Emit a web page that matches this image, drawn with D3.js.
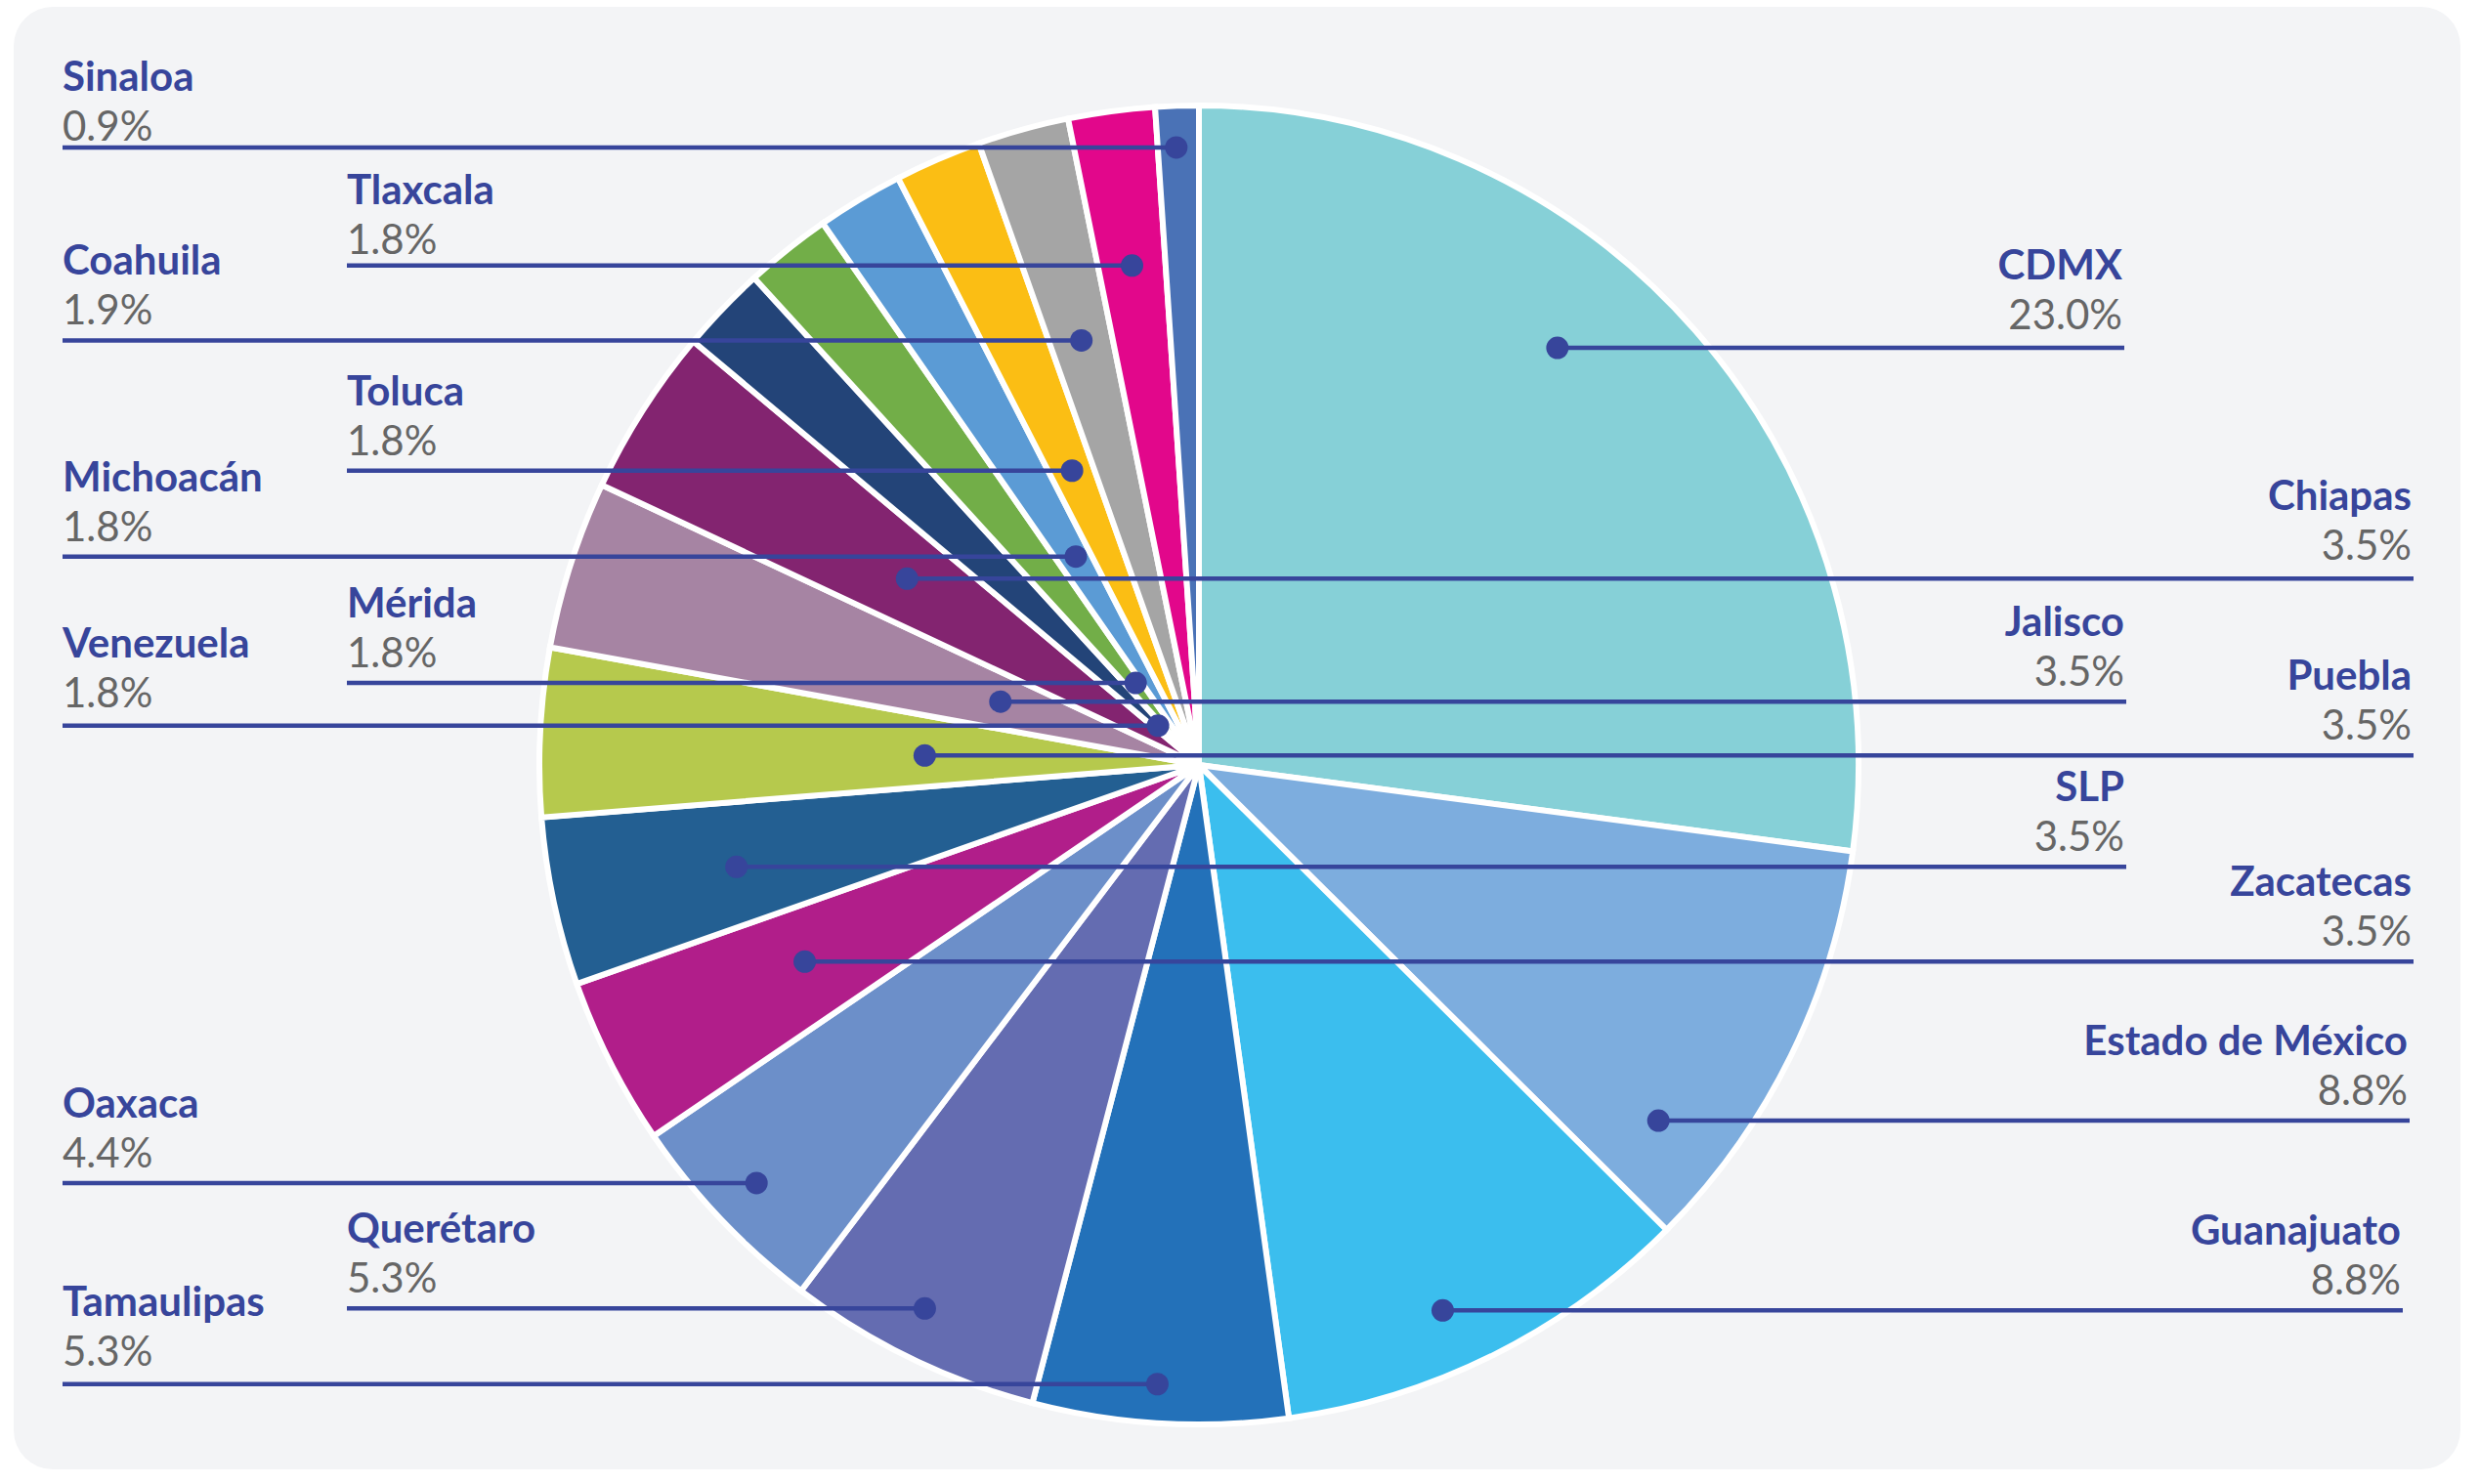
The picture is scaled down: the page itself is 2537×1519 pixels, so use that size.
<!DOCTYPE html>
<html>
<head>
<meta charset="utf-8">
<script src="https://cdn.jsdelivr.net/npm/d3@7"></script>
<style>
  html, body { margin: 0; padding: 0; background: #ffffff; }
  svg { display: block; }
</style>
</head>
<body>
<svg id="chart" width="2537" height="1519"></svg>
<script>
// ---- data ----
const categories = ["CDMX", "Estado de México", "Guanajuato", "Tamaulipas", "Querétaro", "Oaxaca",
  "Zacatecas", "SLP", "Puebla", "Jalisco", "Chiapas", "Venezuela", "Mérida", "Michoacán",
  "Toluca", "Coahuila", "Tlaxcala", "Sinaloa"];
const values = [23.0, 8.8, 8.8, 5.3, 5.3, 4.4, 3.5, 3.5, 3.5, 3.5, 3.5, 1.8, 1.8, 1.8, 1.8, 1.9, 1.8, 0.9];
const colors = ["#86d0d7", "#7dadde", "#3bbeee", "#2371b9", "#646cb1", "#6c8fc9",
  "#b11e8a", "#235f92", "#b6c94d", "#a684a3", "#832470", "#234478", "#72ae48", "#5b9bd5",
  "#fbbe14", "#a5a5a5", "#e2078b", "#4a72b6"];

// ---- label layout (side, text column, anchor position inside slice, text shift) ----
const labelSide = ["R","R","R","L","L","L","R","R","R","R","R","L","L","L","L","L","L","L"];
const labelX    = [2174, 2466, 2459, 64, 355, 64, 2470, 2176, 2470, 2176, 2470, 64, 355, 64, 355, 64, 355, 64];
const anchorAng = [0.417, 0.81, 0.565, 0.52, 0.54, 0.51, 0.52, 0.47, 0.44, 0.5, 0.5, 0.5, 0.62, 0.55, 0.5, 0.5, 0.5, 0.45];
const anchorRad = [0.834, 0.881, 0.906, 0.941, 0.923, 0.923, 0.668, 0.718, 0.416, 0.316, 0.525, 0.086, 0.157, 0.367, 0.486, 0.668, 0.764, 0.937];
const labelShift = [-3, 0, 0, -3, 0, 0, 0, 0, 0, 0, -3, -3, 0, 0, 0, 0, 4, 9];

const W = 2537, H = 1519;
const cx = 1227, cy = 783, R = 675;
const navy = "#37459b";
const gray = "#666666";

const svg = d3.select("#chart");

// panel
svg.append("rect")
  .attr("x", 14).attr("y", 7)
  .attr("width", 2504).attr("height", 1497)
  .attr("rx", 40).attr("ry", 40)
  .attr("fill", "#f3f4f6");

const data = categories.map((c, i) => ({ name: c, value: values[i], color: colors[i], i }));

const pie = d3.pie().sort(null).value(d => d.value).startAngle(0).endAngle(2 * Math.PI);
const arcs = pie(data);
const arc = d3.arc().innerRadius(0).outerRadius(R);

const g = svg.append("g").attr("transform", `translate(${cx},${cy})`);

g.selectAll("path.slice")
  .data(arcs)
  .join("path")
  .attr("class", "slice")
  .attr("d", arc)
  .attr("fill", d => d.data.color)
  .attr("stroke", "#ffffff")
  .attr("stroke-width", 6)
  .attr("stroke-linejoin", "miter");

// anchor points
const anchors = arcs.map((a, k) => {
  const ang = a.startAngle + (a.endAngle - a.startAngle) * anchorAng[k];
  const r = R * anchorRad[k];
  return { x: cx + r * Math.sin(ang), y: cy - r * Math.cos(ang), k, d: a.data };
});

const lab = svg.append("g");

// leader lines
lab.selectAll("line.leader")
  .data(anchors)
  .join("line")
  .attr("class", "leader")
  .attr("x1", d => labelSide[d.k] === "L" ? labelX[d.k] : d.x)
  .attr("x2", d => labelSide[d.k] === "L" ? d.x : labelX[d.k])
  .attr("y1", d => d.y)
  .attr("y2", d => d.y)
  .attr("stroke", navy)
  .attr("stroke-width", 4.5);

// dots
lab.selectAll("circle.dot")
  .data(anchors)
  .join("circle")
  .attr("class", "dot")
  .attr("cx", d => d.x)
  .attr("cy", d => d.y)
  .attr("r", 11.5)
  .attr("fill", navy);

// names
lab.selectAll("text.name")
  .data(anchors)
  .join("text")
  .attr("class", "name")
  .attr("x", d => labelSide[d.k] === "L" ? labelX[d.k] : labelX[d.k] - 2)
  .attr("y", d => d.y - 67 + labelShift[d.k])
  .attr("text-anchor", d => labelSide[d.k] === "L" ? "start" : "end")
  .attr("font-family", "Lato, 'Open Sans', sans-serif")
  .attr("font-weight", 700)
  .attr("font-size", 42)
  .attr("fill", navy)
  .text(d => d.d.name);

// percentages
lab.selectAll("text.pct")
  .data(anchors)
  .join("text")
  .attr("class", "pct")
  .attr("x", d => labelSide[d.k] === "L" ? labelX[d.k] : labelX[d.k] - 2)
  .attr("y", d => d.y - 16 + labelShift[d.k])
  .attr("text-anchor", d => labelSide[d.k] === "L" ? "start" : "end")
  .attr("font-family", "Lato, 'Open Sans', sans-serif")
  .attr("font-weight", 400)
  .attr("font-size", 42)
  .attr("fill", gray)
  .text(d => d.d.value.toFixed(1) + "%");
</script>
</body>
</html>
